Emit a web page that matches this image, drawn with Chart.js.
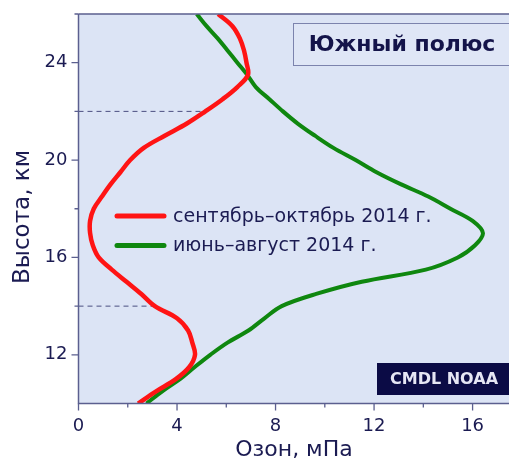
<!DOCTYPE html>
<html>
<head>
<meta charset="utf-8">
<script src="https://cdn.jsdelivr.net/npm/chart.js@4/dist/chart.umd.min.js"></script>
<style>
  html, body { margin: 0; padding: 0; background: #ffffff; overflow: hidden; }
  #wrap { width: 512px; height: 463px; }
</style>
</head>
<body>
<div id="wrap"><canvas id="c" width="512" height="463"></canvas></div>
<script>
// Ozone partial pressure profiles over the South Pole, mPa vs altitude, km
const altitudeKm = [10, 10.5, 11, 11.5, 12, 12.5, 13, 13.5, 14, 14.5, 15, 15.5, 16, 16.5, 17, 17.5,
                    18, 18.5, 19, 19.5, 20, 20.5, 21, 21.5, 22, 22.5, 23, 23.5, 24, 24.5, 25, 25.5, 26];
const ozoneSepOct = [2.42, 3.15, 3.95, 4.5, 4.73, 4.62, 4.45, 4.0, 3.1, 2.55, 1.95, 1.35, 0.82, 0.58, 0.47, 0.47,
                     0.62, 0.95, 1.3, 1.7, 2.1, 2.65, 3.5, 4.4, 5.15, 5.85, 6.45, 6.88, 6.82, 6.72, 6.55, 6.25, 5.67];
const ozoneJunAug = [2.76, 3.4, 4.12, 4.72, 5.35, 6.05, 6.9, 7.55, 8.25, 9.65, 11.5, 14.1, 15.4, 16.1, 16.42, 16.0,
                     15.1, 14.2, 13.1, 12.1, 11.25, 10.35, 9.6, 8.9, 8.3, 7.75, 7.2, 6.85, 6.45, 6.05, 5.65, 5.2, 4.8];
const seriesLabels = ['сентябрь–октябрь 2014 г.', 'июнь–август 2014 г.'];
const seriesColors = ['#ff1414', '#0f870f'];

// Dashed markers of the ozone-hole layer boundaries
const boundaryAltitudes = [22, 14];
const boundaryOzone = [5.15, 3.05];

const xTicksMajor = [0, 4, 8, 12, 16];
const xTicksMinor = [2, 6, 10, 14];
const yTicksMajor = [12, 16, 20, 24];
const yTicksMinor = [14, 18, 22, 26];

const FONT = "'DejaVu Sans', sans-serif";
const TEXT = '#1b1b52';
const AXIS = '#5b5f8f';
const PLOT_BG = '#dce4f5';

function profile(alts, vals) {
  return alts.map((a, i) => ({ x: vals[i], y: a }));
}

const datasets = [
  {
    label: seriesLabels[0],
    data: profile(altitudeKm, ozoneSepOct),
    borderColor: seriesColors[0], borderWidth: 4.5, tension: 0.35,
    pointRadius: 0, showLine: true, order: 1
  },
  {
    label: seriesLabels[1],
    data: profile(altitudeKm, ozoneJunAug),
    borderColor: seriesColors[1], borderWidth: 4, tension: 0.35,
    pointRadius: 0, showLine: true, order: 2
  }
];
boundaryAltitudes.forEach((a, i) => {
  datasets.push({
    label: '',
    data: [{ x: 0, y: a }, { x: boundaryOzone[i], y: a }],
    borderColor: '#4a4e80', borderWidth: 1, borderDash: [5, 4],
    pointRadius: 0, showLine: true, order: 3
  });
});

const decor = {
  id: 'decor',
  beforeDraw(chart) {
    const { ctx, chartArea: a } = chart;
    ctx.save();
    ctx.fillStyle = PLOT_BG;
    ctx.fillRect(a.left, a.top, a.right - a.left, a.bottom - a.top);
    ctx.restore();
  },
  afterDatasetsDraw(chart) {
    const { ctx, chartArea: a, scales: { x, y } } = chart;
    ctx.save();

    // frame: top line + axes
    ctx.strokeStyle = AXIS;
    ctx.lineWidth = 1.5;
    ctx.beginPath();
    ctx.moveTo(a.left, a.top); ctx.lineTo(a.right, a.top);
    ctx.moveTo(a.left, a.top); ctx.lineTo(a.left, a.bottom);
    ctx.lineTo(a.right, a.bottom);
    ctx.stroke();

    // tick marks
    ctx.lineWidth = 1.3;
    ctx.beginPath();
    xTicksMajor.forEach(v => { const px = x.getPixelForValue(v); ctx.moveTo(px, a.bottom); ctx.lineTo(px, a.bottom + 7); });
    xTicksMinor.forEach(v => { const px = x.getPixelForValue(v); ctx.moveTo(px, a.bottom); ctx.lineTo(px, a.bottom + 4); });
    yTicksMajor.forEach(v => { const py = y.getPixelForValue(v); ctx.moveTo(a.left, py); ctx.lineTo(a.left - 7, py); });
    yTicksMinor.forEach(v => { const py = y.getPixelForValue(v); ctx.moveTo(a.left, py); ctx.lineTo(a.left - 4, py); });
    ctx.stroke();

    // legend
    ctx.font = '19px ' + FONT;
    ctx.textBaseline = 'middle';
    ctx.textAlign = 'left';
    const legendRows = [216, 245.5];
    chart.data.datasets.slice(0, 2).forEach((ds, i) => {
      const ly = legendRows[i];
      ctx.strokeStyle = ds.borderColor;
      ctx.lineWidth = 5;
      ctx.lineCap = 'round';
      ctx.beginPath(); ctx.moveTo(117, ly); ctx.lineTo(164, ly); ctx.stroke();
      ctx.fillStyle = TEXT;
      ctx.fillText(ds.label, 173, ly + 1);
    });
    ctx.lineCap = 'butt';

    // site title box
    ctx.fillStyle = '#dfe6f6';
    ctx.fillRect(293, 23, 230, 42);
    ctx.strokeStyle = '#7c83ad';
    ctx.lineWidth = 1;
    ctx.strokeRect(293.5, 23.5, 230, 42);
    ctx.fillStyle = '#14144a';
    ctx.font = 'bold 22px ' + FONT;
    ctx.textAlign = 'center';
    ctx.fillText('Южный полюс', 402, 45);

    // data source badge
    ctx.fillStyle = '#0b0b45';
    ctx.fillRect(377, 363, 140, 32);
    ctx.fillStyle = '#e6e6f4';
    ctx.font = 'bold 16px ' + FONT;
    ctx.fillText('CMDL NOAA', 444, 380);

    ctx.restore();
  },
  afterDraw(chart) {
    const { ctx } = chart;
    ctx.save();
    ctx.fillStyle = TEXT;
    ctx.textAlign = 'center';
    ctx.textBaseline = 'middle';
    ctx.font = '22px ' + FONT;
    ctx.fillText('Озон, мПа', 294, 450);
    ctx.translate(23, 217);
    ctx.rotate(-Math.PI / 2);
    ctx.font = '23px ' + FONT;
    ctx.fillText('Высота, км', 0, 0);
    ctx.restore();
  }
};

new Chart(document.getElementById('c'), {
  type: 'scatter',
  data: { datasets },
  options: {
    responsive: false,
    animation: false,
    layout: { padding: { top: 14, left: 0, right: 0, bottom: 0 } },
    plugins: { legend: { display: false }, tooltip: { enabled: false } },
    scales: {
      x: {
        type: 'linear', min: 0, max: 17.6, position: 'bottom',
        afterFit: s => { s.height = 59.5; s.paddingLeft = 0; s.paddingRight = 0; },
        grid: { display: false, drawTicks: false },
        border: { display: false },
        ticks: {
          stepSize: 4, includeBounds: false, padding: 12, maxRotation: 0,
          color: TEXT, font: { family: FONT, size: 18 }
        }
      },
      y: {
        type: 'linear', min: 10, max: 26, position: 'left',
        afterFit: s => { s.width = 78.5; s.paddingTop = 0; s.paddingBottom = 0; },
        grid: { display: false, drawTicks: false },
        border: { display: false },
        ticks: {
          stepSize: 2, includeBounds: false, padding: 11, autoSkip: false,
          color: TEXT, font: { family: FONT, size: 18 },
          callback: v => yTicksMajor.includes(v) ? String(v) : ''
        }
      }
    }
  },
  plugins: [decor]
});
</script>
</body>
</html>
